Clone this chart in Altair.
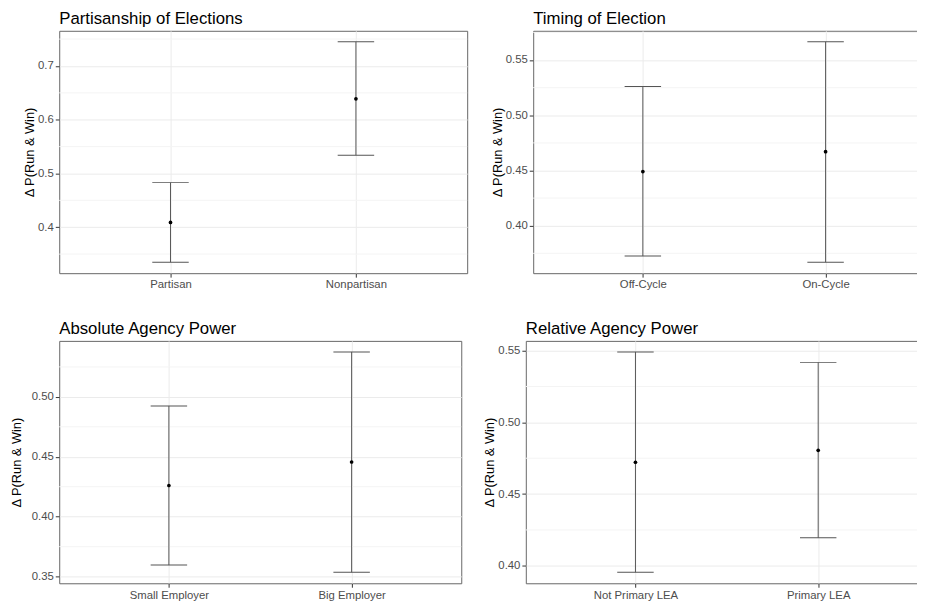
import altair as alt
import pandas as pd

titles = ["Partisanship of Elections", "Timing of Election",
          "Absolute Agency Power", "Relative Agency Power"]
cats = [["Partisan", "Nonpartisan"], ["Off-Cycle", "On-Cycle"],
        ["Small Employer", "Big Employer"], ["Not Primary LEA", "Primary LEA"]]
est = [[0.409, 0.639], [0.449, 0.467], [0.426, 0.4456], [0.4722, 0.4805]]
lower = [[0.335, 0.534], [0.3725, 0.367], [0.3596, 0.3536], [0.3955, 0.4195]]
upper = [[0.483, 0.745], [0.526, 0.5665], [0.4924, 0.5375], [0.5491, 0.5418]]
major_ticks = [[0.4, 0.5, 0.6, 0.7], [0.40, 0.45, 0.50, 0.55],
               [0.35, 0.40, 0.45, 0.50], [0.40, 0.45, 0.50, 0.55]]
minor_ticks = [[0.35, 0.45, 0.55, 0.65, 0.75], [0.375, 0.425, 0.475, 0.525, 0.575],
               [0.375, 0.425, 0.475, 0.525], [0.425, 0.475, 0.525]]
tick_format = [".1f", ".2f", ".2f", ".2f"]
y_title = "Δ P(Run & Win)"

FONT = "Liberation Sans"
BAR_COLOR = "#555555"


def panel(i, width, title_pad, height=246):
    df = pd.DataFrame({"cat": cats[i], "est": est[i], "lo": lower[i], "hi": upper[i]})
    lo_all, hi_all = min(lower[i]), max(upper[i])
    r = hi_all - lo_all
    dom = [lo_all - 0.05 * r, hi_all + 0.05 * r]
    yscale = alt.Scale(domain=dom, nice=False, zero=False)
    yaxis = alt.Axis(title=y_title, values=major_ticks[i],
                     format=tick_format[i], grid=True, titlePadding=title_pad)
    xscale = alt.Scale(type="point", padding=0.6)
    x = alt.X("cat:N", sort=cats[i], scale=xscale,
              axis=alt.Axis(title=None, labelAngle=0, grid=True))
    base = alt.Chart(df)
    minor = alt.Chart(pd.DataFrame({"v": minor_ticks[i]})).mark_rule(
        color="#F4F4F4", strokeWidth=1
    ).encode(y=alt.Y("v:Q", scale=yscale, axis=yaxis))
    bars = base.mark_rule(color=BAR_COLOR, strokeWidth=1).encode(
        x=x,
        y=alt.Y("lo:Q", scale=yscale, axis=yaxis),
        y2="hi:Q",
    )
    cap_lo = base.mark_tick(color=BAR_COLOR, size=37, thickness=1, opacity=1).encode(
        x=x, y=alt.Y("lo:Q", scale=yscale, axis=yaxis))
    cap_hi = base.mark_tick(color=BAR_COLOR, size=37, thickness=1, opacity=1).encode(
        x=x, y=alt.Y("hi:Q", scale=yscale, axis=yaxis))
    pts = base.mark_point(filled=True, size=14, color="black", opacity=1).encode(
        x=x, y=alt.Y("est:Q", scale=yscale, axis=yaxis))
    return alt.layer(minor, bars, cap_lo, cap_hi, pts).properties(
        width=width, height=height,
        title=alt.TitleParams(titles[i], anchor="start", frame="group",
                              fontSize=17, fontWeight="normal", color="black",
                              font=FONT, offset=3.1),
    )


row1 = alt.hconcat(panel(0, 414, 1), panel(1, 408, 1), spacing=23)
row2 = alt.hconcat(panel(2, 408, 7.5), panel(3, 408, 1), spacing=21.5)

chart = alt.vconcat(row1, row2, spacing=28.7).properties(
    padding={"left": 2, "top": -3.3, "right": -19.5, "bottom": 0}
).configure(font=FONT).configure_view(
    stroke="#666666", strokeWidth=1
).configure_axis(
    labelFont=FONT, labelFontSize=11.5, labelColor="#4D4D4D",
    tickColor="#333333", tickSize=4, tickWidth=1, labelPadding=2,
    titleFont=FONT, titleFontSize=13, titleColor="black",
    titleFontWeight="normal",
    gridColor="#EBEBEB", gridWidth=1, domain=False,
)

chart.save("out.html", embed_options={"renderer": "svg", "actions": False})
